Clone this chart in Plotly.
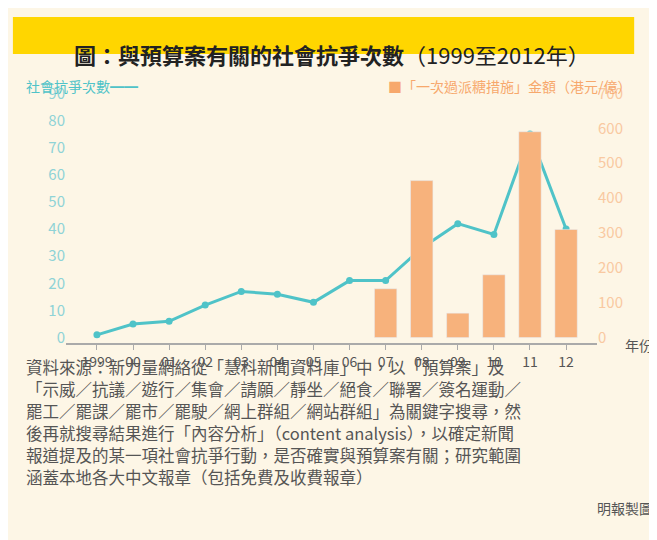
import plotly.graph_objects as go

years = ["1999","00","01","02","03","04","05","06","07","08","09","10","11","12"]
protests = [1,5,6,12,17,16,13,21,21,33,42,38,75,40]
bar_years = ["07","08","09","10","11","12"]
bar_amounts = [140,450,70,180,590,310]
left_ticks = [0,10,20,30,40,50,60,70,80,90]
right_ticks = [0,100,200,300,400,500,600,700]
notes = [
    "資料來源：新力量網絡從「慧科新聞資料庫」中，以「預算案」及",
    "「示威／抗議／遊行／集會／請願／靜坐／絕食／聯署／簽名運動／",
    "罷工／罷課／罷市／罷駛／網上群組／網站群組」為關鍵字搜尋，然",
    "後再就搜尋結果進行「內容分析」（content analysis），以確定新聞",
    "報道提及的某一項社會抗爭行動，是否確實與預算案有關；研究範圍",
    "涵蓋本地各大中文報章（包括免費及收費報章）",
]

FONT = "Noto Sans CJK TC"
T, B, H = 80, 205, 540
PH = H - T - B
def py(p):
    return (H - B - p) / PH

fig = go.Figure()
fig.add_trace(go.Bar(x=bar_years, y=bar_amounts, yaxis="y2", marker_color="#f7b27c",
                     width=0.62, showlegend=False))
fig.add_trace(go.Scatter(x=years, y=protests, mode="lines+markers",
                         line=dict(color="#4fc3c8", width=3),
                         marker=dict(size=7, color="#4fc3c8"), showlegend=False))

fig.update_layout(
    width=657, height=540, paper_bgcolor="#fdf6e6", plot_bgcolor="#fdf6e6",
    margin=dict(l=58, r=68, t=T, b=B),
    font=dict(family=FONT, size=13, color="#666"),
    xaxis=dict(categoryorder="array", categoryarray=years, showline=True, linecolor="#aaa",
               linewidth=2, ticks="outside", ticklen=5, tickcolor="#aaa",
               tickfont=dict(color="#555", size=14)),
    yaxis=dict(range=[-2, 92], tickvals=left_ticks, showgrid=False, zeroline=False,
               tickfont=dict(color="#8fd3d6", size=15)),
    yaxis2=dict(range=[-15.5, 715.5], tickvals=right_ticks, overlaying="y", side="right",
                showgrid=False, zeroline=False, tickfont=dict(color="#f9c9a1", size=15)),
    shapes=[dict(type="rect", xref="paper", yref="paper", x0=-0.1, x1=1.07,
                 y0=py(46), y1=py(9), fillcolor="#ffd600", line_width=0)],
)
ann = [
    dict(x=0.5, y=py(28), text="<b>圖：與預算案有關的社會抗爭次數</b>（1999至2012年）",
         font=dict(size=22, color="#222")),
    dict(x=-0.08, y=py(66), xanchor="left", text="社會抗爭次數━━",
         font=dict(size=14, color="#4fc3c8")),
    dict(x=1.07, y=py(66), xanchor="right", text="■「一次過派糖措施」金額（港元/億）",
         font=dict(size=14, color="#f7a86c")),
    dict(x=1.11, y=py(349), xanchor="right", text="年份",
         font=dict(size=14, color="#555")),
    dict(x=1.11, y=py(512), xanchor="right", text="明報製圖",
         font=dict(size=14, color="#555")),
]
for i, line in enumerate(notes):
    ann.append(dict(x=-0.08, y=py(373 + 22 * i), xanchor="left", text=line,
                    font=dict(size=16.5, color="#555")))
for a in ann:
    a.setdefault("xref", "paper"); a.setdefault("yref", "paper"); a["showarrow"] = False
fig.update_layout(annotations=ann)
fig.write_html("out.html")
